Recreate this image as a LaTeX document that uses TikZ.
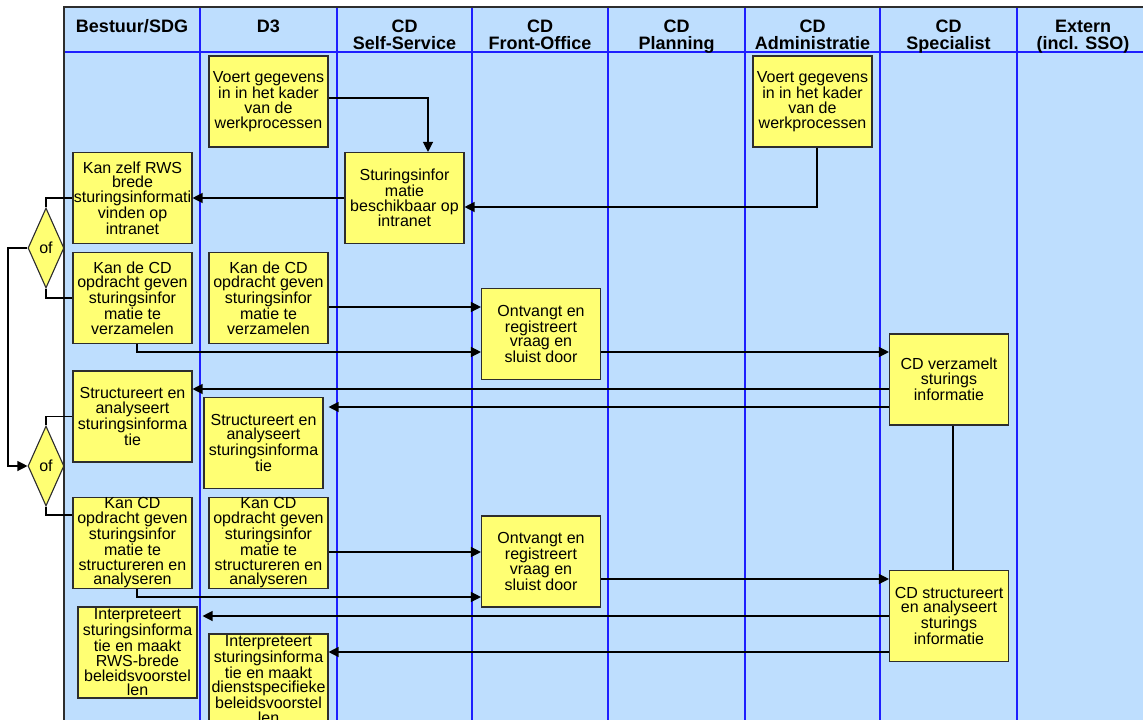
\documentclass[tikz,border=0pt]{standalone}
\usepackage{fontspec}
\setmainfont{Liberation Sans}
\usetikzlibrary{arrows.meta,shapes.geometric}
\definecolor{lane}{RGB}{190,222,254}
\definecolor{boxy}{RGB}{255,255,115}
\definecolor{divb}{RGB}{30,30,255}
\definecolor{edgec}{RGB}{45,45,45}
\newcommand\twohdr[2]{\vtop{\baselineskip=16.7pt\halign{\hfil##\hfil\cr #1\cr #2\cr}}}
\begin{document}
\begin{tikzpicture}[x=1pt,y=-1pt,
  task/.style={draw=edgec, line width=1.1pt, fill=boxy, minimum width=119pt, minimum height=91pt, inner sep=0pt, align=center, font=\fontsize{16}{14.7}\selectfont},
  dec/.style={diamond, draw=edgec, line width=1.1pt, fill=boxy, minimum width=36pt, minimum height=80pt, inner sep=0pt, font=\fontsize{16}{16}\selectfont},
  conn/.style={line width=1.2pt, black},
  arr/.style={conn, -{Triangle[length=10pt,width=10pt]}},
  hdr/.style={anchor=base, font=\bfseries\fontsize{18}{16.7}\selectfont, inner sep=0pt},
  divider/.style={draw=divb, line width=1.2pt}]
\useasboundingbox (0,0) rectangle (1143,720);
\fill[white] (0,0) rectangle (1143,720);
\fill[lane] (64,7) rectangle (1143,720);
\foreach \x in {200,337,472,608,745,880,1017} \draw[divider] (\x,7) -- (\x,720);
\draw[divider] (64,52) -- (1143,52);
\draw[edgec, line width=1.6pt] (64,720) -- (64,7) -- (1143,7);
% headers
\node[hdr] (h1) at (132,32.5) {Bestuur/SDG};
\node[hdr] (h2) at (268.5,32.5) {D3};
\node[hdr] (h3) at (404.5,32.5) {\twohdr{CD}{Self-Service}};
\node[hdr] (h4) at (540,32.5) {\twohdr{CD}{Front-Office}};
\node[hdr] (h5) at (676.5,32.5) {\twohdr{CD}{Planning}};
\node[hdr] (h6) at (812.5,32.5) {\twohdr{CD}{Administratie}};
\node[hdr] (h7) at (948.5,32.5) {\twohdr{CD}{Specialist}};
\node[hdr] (h8) at (1083,32.5) {\twohdr{Extern}{(incl. SSO)}};
% tasks
\node[task] (d3v) at (268.5,101.5) {Voert gegevens\\in in het kader\\van de\\werkprocessen};
\node[task] (adv) at (812.5,101.5) {Voert gegevens\\in in het kader\\van de\\werkprocessen};
\node[task] (kz) at (132.5,198) {Kan zelf RWS\\brede\\sturingsinformati\\vinden op\\intranet};
\node[task] (sti) at (404.5,198) {Sturingsinfor\\matie\\beschikbaar op\\intranet};
\node[task] (bkd) at (132.5,298) {Kan de CD\\opdracht geven\\sturingsinfor\\matie te\\verzamelen};
\node[task] (dkd) at (268.5,298) {Kan de CD\\opdracht geven\\sturingsinfor\\matie te\\verzamelen};
\node[task] (ont1) at (541,334) {Ontvangt en\\registreert\\vraag en\\sluist door};
\node[task] (cdv) at (949,379.5) {CD verzamelt\\sturings\\informatie};
\node[task] (bst) at (132.5,416.5) {Structureert en\\analyseert\\sturingsinforma\\tie};
\node[task] (dst) at (263.5,443) {Structureert en\\analyseert\\sturingsinforma\\tie};
\node[task] (bkc) at (132.5,543) {Kan CD\\opdracht geven\\sturingsinfor\\matie te\\structureren en\\analyseren};
\node[task] (dkc) at (268.5,543) {Kan CD\\opdracht geven\\sturingsinfor\\matie te\\structureren en\\analyseren};
\node[task] (ont2) at (541,561.5) {Ontvangt en\\registreert\\vraag en\\sluist door};
\node[task] (cds) at (949,616) {CD structureert\\en analyseert\\sturings\\informatie};
\node[task] (bin) at (137.5,652.5) {Interpreteert\\sturingsinforma\\tie en maakt\\RWS-brede\\beleidsvoorstel\\len};
\node[task] (din) at (268.5,679.5) {Interpreteert\\sturingsinforma\\tie en maakt\\dienstspecifieke\\beleidsvoorstel\\len};
% decisions
\node[dec] (d1) at (46,248) {of};
\node[dec] (d2) at (46,466) {of};
\coordinate (lp) at (8,248);
% connectors
\draw[arr] ([yshift=3.5pt]d3v.east) -| ([xshift=23.5pt]sti.north);
\draw[arr] ([xshift=4.5pt]adv.south) |- ([yshift=-9pt]sti.east);
\draw[arr] (sti.west) -- (kz.east);
\draw[conn] (kz.west) -| (d1.north);
\draw[conn] (bkd.west) -| (d1.south);
\draw[arr] (d1.west) -- (lp) |- (d2.west);
\draw[conn] (bst.west) -| (d2.north);
\draw[conn] ([yshift=28pt]bkc.west) -| (d2.south);
\draw[arr] ([yshift=-9pt]dkd.east) -- ([yshift=27pt]ont1.west);
\draw[arr] ([xshift=4.5pt]bkd.south) |- ([yshift=-18pt]ont1.west);
\draw[arr] ([yshift=-18pt]ont1.east) -- ([yshift=27.5pt]cdv.west);
\draw[arr] ([yshift=-9.5pt]cdv.west) -- ([yshift=27.5pt]bst.east);
\draw[arr] ([yshift=-27.5pt]cdv.west) -- ([xshift=5pt,yshift=36pt]dst.east);
\draw[conn] ([xshift=4pt]cdv.south) -- ([xshift=4pt]cds.north);
\draw[arr] ([yshift=-9pt]dkc.east) -- ([yshift=9.5pt]ont2.west);
\draw[arr] ([xshift=4.5pt]bkc.south) |- ([yshift=-35.5pt]ont2.west);
\draw[arr] ([yshift=-17.5pt]ont2.east) -- ([yshift=37pt]cds.west);
\draw[arr] (cds.west) -- ([xshift=5pt,yshift=36.5pt]bin.east);
\draw[arr] ([yshift=-36pt]cds.west) -- ([yshift=27.5pt]din.east);
\end{tikzpicture}
\end{document}
